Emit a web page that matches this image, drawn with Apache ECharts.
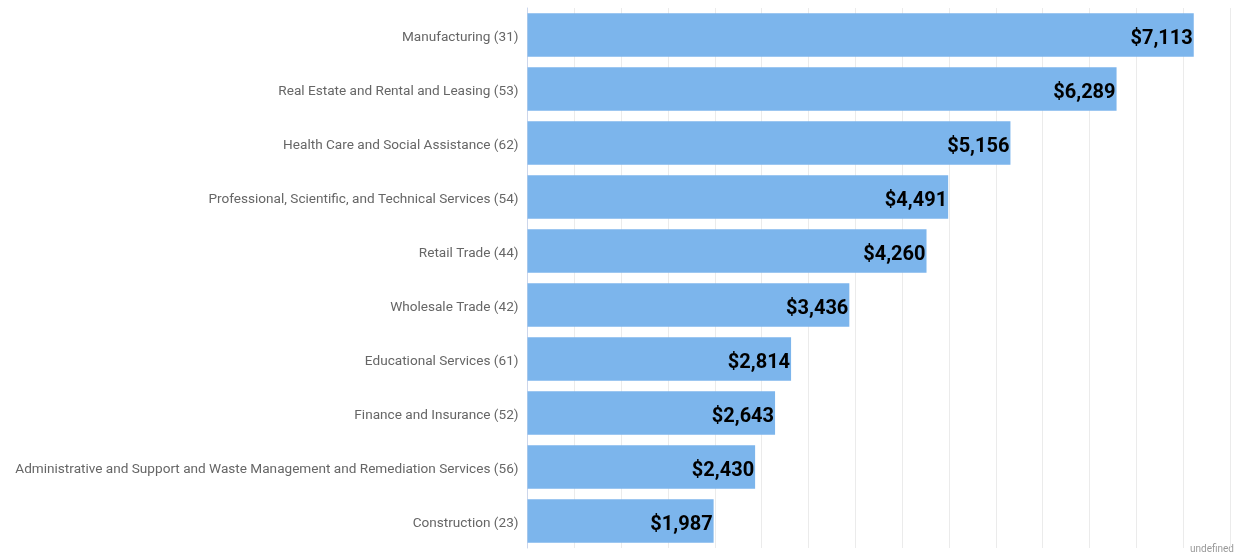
<!DOCTYPE html>
<html>
<head>
<meta charset="utf-8">
<script src="https://cdn.jsdelivr.net/npm/echarts@6/dist/echarts.min.js"></script>
<style>
html,body{margin:0;padding:0;background:#fff;}
#c{width:1235px;height:555px;}
</style>
</head>
<body>
<div id="c"></div>
<script>
const categories = [
  "Manufacturing (31)",
  "Real Estate and Rental and Leasing (53)",
  "Health Care and Social Assistance (62)",
  "Professional, Scientific, and Technical Services (54)",
  "Retail Trade (44)",
  "Wholesale Trade (42)",
  "Educational Services (61)",
  "Finance and Insurance (52)",
  "Administrative and Support and Waste Management and Remediation Services (56)",
  "Construction (23)"
];
const values = [7113, 6289, 5156, 4491, 4260, 3436, 2814, 2643, 2430, 1987];
const creditText = "undefined";

const chart = echarts.init(document.getElementById('c'), null, {renderer: 'canvas'});
chart.setOption({
  animation: false,
  grid: {left: 527.5, right: 5, top: 8, bottom: 7, containLabel: false},
  xAxis: {
    type: 'value', min: 0, max: 7500, interval: 500,
    axisLabel: {show: false},
    axisLine: {show: false},
    axisTick: {show: false},
    splitLine: {show: true, lineStyle: {color: '#ebebeb', width: 1}}
  },
  yAxis: {
    type: 'category', data: categories, inverse: true,
    axisLine: {show: true, lineStyle: {color: '#ccd6eb', width: 1}},
    axisTick: {show: false},
    axisLabel: {
      margin: 9,
      formatter: v => '{a|' + v + '}',
      rich: {a: {color: '#666666', fontSize: 13.6, fontFamily: 'Roboto', padding: [6, 0, 0, 0]}}
    }
  },
  series: [{
    type: 'bar', data: values, barCategoryGap: '19%',
    itemStyle: {color: '#7cb5ec'},
    label: {
      show: true, position: 'insideRight', distance: 1, offset: [0, 4],
      formatter: p => '$' + p.value.toLocaleString('en-US'),
      color: '#000', fontSize: 20, fontWeight: 'bold', fontFamily: 'Roboto'
    }
  }],
  graphic: [{
    type: 'text', right: 1, bottom: 1,
    style: {text: creditText, fill: '#999999', font: '10px Roboto'}
  }]
});
</script>
</body>
</html>
